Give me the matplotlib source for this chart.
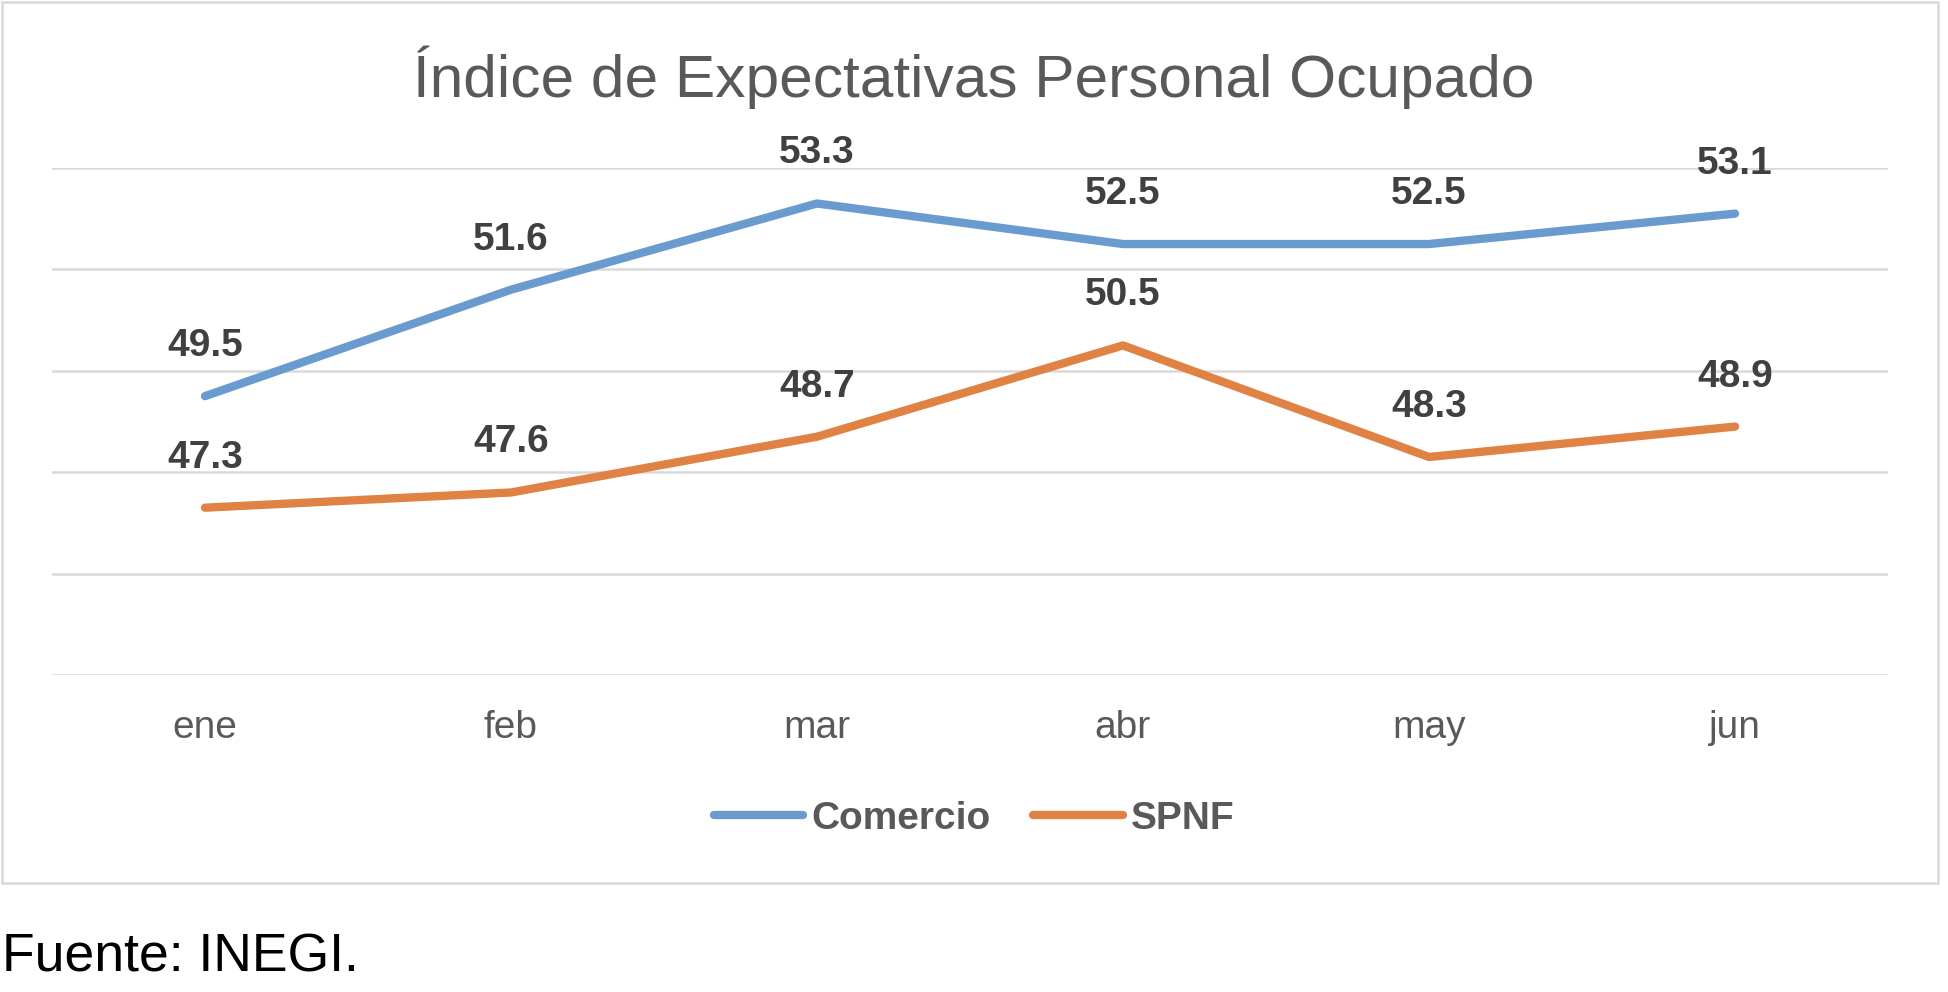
import matplotlib
matplotlib.use("Agg")
import matplotlib.pyplot as plt
from matplotlib.patches import Rectangle

plt.rcParams['font.family'] = ['Liberation Sans', 'DejaVu Sans']

meses = ["ene", "feb", "mar", "abr", "may", "jun"]
comercio = [49.5, 51.6, 53.3, 52.5, 52.5, 53.1]
spnf = [47.3, 47.6, 48.7, 50.5, 48.3, 48.9]
titulo = "Índice de Expectativas Personal Ocupado"
fuente = "Fuente: INEGI."

W, H = 1948, 992
fig = plt.figure(figsize=(W / 100, H / 100), dpi=100)
fig.patch.set_facecolor("white")

# outer chart frame
fig.patches.append(Rectangle((2 / W, 1 - 883 / H), (1938 - 2) / W, (883 - 2) / H,
                             transform=fig.transFigure, fill=False,
                             edgecolor="#D9D9D9", linewidth=1.8))

ax = fig.add_axes([52 / W, 1 - 675 / H, (1888 - 52) / W, (675 - 168) / H])
x = list(range(len(meses)))
c_blue = "#699BCF"
c_orange = "#DF8244"
ax.plot(x, comercio, color=c_blue, lw=6, solid_capstyle="round", solid_joinstyle="round", label="Comercio")
ax.plot(x, spnf, color=c_orange, lw=6, solid_capstyle="round", solid_joinstyle="round", label="SPNF")

for xs, ys in ((x, comercio), (x, spnf)):
    for xi, yi in zip(xs, ys):
        ax.annotate(f"{yi:.1f}", (xi, yi), xytext=(0, 36), textcoords="offset points",
                    ha="center", va="center", fontsize=28, fontweight="bold", color="#404040")

ax.set_xlim(-0.5, len(meses) - 0.5)
ax.set_ylim(44, 54)
ax.set_yticks([44, 46, 48, 50, 52, 54])
ax.set_yticklabels([])
ax.tick_params(axis="y", length=0)
ax.set_xticks(x)
ax.set_xticklabels(meses, fontsize=28, color="#595959")
ax.tick_params(axis="x", length=0, pad=25)
ax.grid(axis="y", color="#D9D9D9", lw=1.8)
ax.set_axisbelow(True)
for s in ax.spines.values():
    s.set_visible(False)

fig.text(0.5, 1 - 77 / H, titulo, ha="center", va="center", fontsize=43.5, color="#595959")

leg = fig.legend(loc="center", bbox_to_anchor=(0.5, 1 - 819 / H), ncol=2, frameon=False,
                 prop={"size": 28, "weight": "bold"}, handlelength=2.3,
                 handletextpad=0.2, columnspacing=1.1)
for t in leg.get_texts():
    t.set_color("#595959")

fig.text(2 / W, 1 - 957 / H, fuente, ha="left", va="center", fontsize=38.5, color="black")

fig.savefig("out.png", dpi=100)
